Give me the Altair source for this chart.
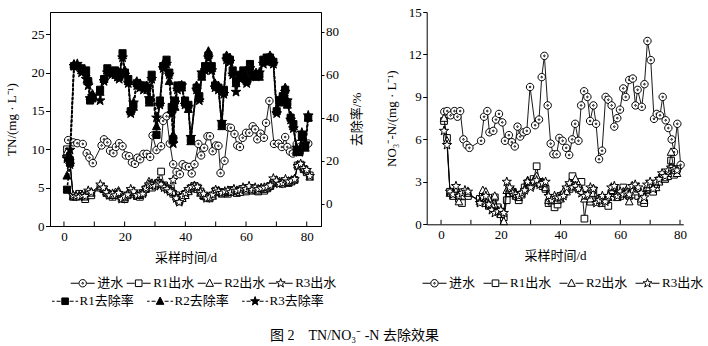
import altair as alt
import pandas as pd

FONT = "Liberation Serif, Noto Sans CJK SC"

# ---------------- data: left panel (TN) ----------------
tn_in_day = [1.4, 3.1, 4.4, 6.2, 7.5, 8.4, 9.5, 12.4, 13.2, 14.3, 15.2, 16.3, 17.1, 18.2, 19.3, 20.4, 21.5,
             22.4, 23.4, 24.2, 25.1, 26.2, 27.3, 28.4, 29.2, 30.5, 32.0, 32.7, 33.8, 34.9, 36.0, 37.1, 38.2,
             39.1, 40.1, 41.2, 42.1, 43.0, 44.3, 45.2, 46.2, 47.3, 48.1, 49.0, 50.1, 50.9, 51.6, 52.9, 54.2,
             55.0, 56.2, 57.1, 58.0, 58.9, 60.0, 61.1, 62.2, 63.0, 63.7, 64.8, 65.9, 66.6, 67.7, 69.2, 70.7,
             71.8, 72.9, 73.6, 74.5, 75.4, 76.7, 77.6, 79.1, 80.5]
tn_in_val = [11.2, 10.9, 10.8, 10.7, 9.5, 8.9, 8.2, 10.5, 11.3, 10.9, 9.8, 9.5, 10.3, 10.8, 10.4, 9.2, 9.1,
             8.3, 8.1, 8.9, 8.7, 9.4, 9.4, 9.0, 11.8, 9.9, 10.4, 13.7, 14.3, 10.75, 8.05, 7.05, 6.75,
             8.05, 7.8, 7.7, 6.85, 8.05, 10.7, 9.2, 10.2, 11.7, 11.7, 9.75, 10.5, 10.45, 6.9, 8.5, 12.85,
             12.8, 12.0, 10.5, 10.3, 11.5, 12.15, 12.15, 13.0, 12.6, 11.3, 12.05, 11.5, 13.45, 16.3, 10.7, 10.75,
             10.3, 11.6, 10.3, 9.7, 9.45, 10.7, 10.75, 10.75, 10.75]

tn_eff_day = [1, 2, 3, 4, 5, 6, 7, 8, 9,
              12, 13, 14, 15, 16, 17, 18, 19, 20, 21,
              22, 23, 24, 25, 26, 27, 28, 29, 30, 31,
              32, 33, 34, 35, 36, 37, 38, 39, 40, 41,
              42, 43, 44, 45, 46, 47, 48, 49, 50, 51,
              52, 53, 54, 55, 56, 57, 58, 59, 60, 61,
              62, 63, 64, 65, 66, 67, 68, 69, 70, 71,
              72, 73, 74, 75, 76, 77, 78, 79, 80, 81]
tn_r1 = [10.0, 8.6, 3.8, 3.9, 4.2, 3.9, 3.5, 4.3, 4.0,
         5.0, 4.8, 4.3, 4.0, 3.8, 4.2, 4.0, 3.6, 3.5, 4.0,
         4.5, 4.2, 3.9, 3.8, 4.3, 4.8, 5.2, 5.0, 5.3, 5.6,
         7.1, 5.3, 4.9, 4.6, 4.2, 4.0, 3.2, 3.8, 4.2, 4.6,
         4.9, 5.2, 5.0, 4.5, 3.9, 3.7, 3.6, 4.0, 4.6, 4.4,
         4.2, 4.4, 4.2, 4.7, 4.5, 4.3, 4.6, 4.8, 4.5, 4.9,
         4.6, 4.7, 4.5, 4.8, 4.6, 4.9, 5.2, 5.6, 5.7, 5.6,
         5.5, 5.8, 5.6, 5.8, 6.0, 7.9, 8.0, 7.4, 7.0, 6.6]
tn_r2 = [9.7, 8.3, 3.9, 3.8, 4.0, 4.1, 3.8, 4.5, 4.3,
         5.2, 4.9, 4.5, 4.2, 4.0, 4.4, 4.6, 3.9, 3.7, 4.2,
         4.7, 4.4, 4.1, 4.0, 4.4, 5.0, 5.8, 5.6, 5.5, 5.9,
         5.6, 5.2, 5.1, 4.8, 4.4, 3.8, 3.4, 3.6, 4.0, 4.5,
         5.0, 5.3, 4.8, 4.3, 4.0, 3.9, 3.8, 3.9, 4.5, 4.6,
         4.4, 4.3, 4.4, 4.5, 4.7, 4.5, 4.4, 4.9, 4.7, 5.0,
         4.8, 4.9, 4.6, 5.0, 4.8, 5.0, 5.4, 5.8, 6.0, 5.8,
         5.7, 5.9, 5.7, 6.0, 6.2, 8.0, 7.9, 7.6, 7.2, 6.4]
tn_r3 = [9.0, 8.0, 4.0, 3.9, 3.8, 4.0, 3.9, 4.6, 4.4,
         5.4, 5.0, 4.4, 4.0, 4.2, 4.0, 4.3, 3.5, 3.8, 4.1,
         4.8, 4.5, 4.0, 4.1, 4.2, 4.9, 5.4, 5.3, 5.2, 5.5,
         5.4, 5.0, 4.8, 4.5, 6.0, 3.6, 3.1, 3.9, 4.3, 4.8,
         5.1, 5.2, 5.1, 4.4, 4.2, 3.6, 3.7, 4.1, 4.7, 4.5,
         4.3, 4.5, 4.6, 4.4, 4.8, 4.6, 4.7, 5.0, 4.8, 5.2,
         4.7, 5.0, 4.8, 4.9, 5.0, 5.1, 5.3, 6.2, 5.9, 5.5,
         5.6, 6.1, 5.8, 5.9, 6.1, 7.8, 8.1, 7.5, 7.3, 6.5]

rm_day = [1.0, 2.0, 3.3, 4.4, 5.8, 7.3, 8.0, 8.6, 9.4, 11.9,
          13.2, 14.3, 15.7, 16.8, 17.6, 18.2, 19.3, 20.1, 21.2, 22.0,
          22.9, 24.0, 25.1, 26.2, 27.3, 28.1, 28.9, 30.5, 31.6, 32.7,
          33.8, 34.7, 35.5, 36.0, 36.6, 37.4, 38.8, 39.9, 41.0, 41.8,
          43.7, 44.6, 45.4, 46.5, 47.6, 48.7, 49.8, 50.9, 52.0, 52.7,
          53.6, 54.7, 55.6, 56.7, 58.0, 59.1, 60.2, 61.3, 62.2, 63.3,
          64.4, 65.7, 66.8, 67.9, 69.0, 70.1, 71.2, 72.1, 72.9, 73.6,
          74.7, 75.6, 76.7, 77.6, 78.4, 79.5, 80.5]
rm_r1 = [6.5, 19, 64, 64, 63, 62, 57, 48, 49, 53,
         58, 63, 61, 62, 61, 60, 70, 61, 58, 43,
         46, 56, 55, 55, 54, 48, 60, 32, 48, 64,
         67, 61, 45, 30, 48, 55, 55, 48, 46, 30,
         54, 50, 60, 64, 69, 64, 55, 54, 37, 53,
         68, 67, 62, 57, 60, 62, 57, 65, 60, 60,
         60, 67, 68, 68, 66, 43, 48, 50, 53, 47,
         40, 37, 25, 24, 32, 27, 40]
rm_r2 = [13, 22, 65, 64, 62, 61, 58, 50, 51, 52,
         58, 62, 61, 61, 60, 59, 69, 62, 57, 44,
         45, 57, 56, 54, 55, 47, 59, 36, 47, 65,
         66, 57, 44, 32, 45, 54, 54, 47, 44, 29,
         55, 49, 59, 63, 71, 63, 56, 55, 36, 52,
         69, 68, 61, 56, 59, 61, 58, 64, 59, 61,
         59, 66, 67, 69, 67, 44, 47, 49, 54, 46,
         41, 36, 24, 25, 31, 26, 40]
rm_r3 = [21, 25, 64, 65, 61, 58, 55, 49, 50, 48,
         57, 61, 60, 60, 59, 58, 68, 60, 56, 42,
         47, 55, 54, 53, 53, 49, 58, 40, 46, 63,
         65, 60, 42, 28, 47, 53, 55, 46, 45, 31,
         53, 48, 61, 62, 68, 62, 54, 53, 38, 51,
         67, 66, 60, 52, 58, 60, 56, 63, 60, 59,
         61, 65, 66, 67, 65, 42, 49, 48, 52, 48,
         39, 35, 26, 24, 33, 28, 41]

# ---------------- data: right panel (NO3-N) ----------------
no3_in_day = [1.1, 2.1, 3.2, 4.5, 5.5, 6.4, 7.5, 8.6, 9.5, 13.4, 14.4, 15.5, 16.2, 17.5, 18.4, 19.4, 20.5,
              21.4, 22.7, 23.7, 24.7, 25.6, 26.5, 27.6, 28.7, 29.8, 31.5, 32.8, 33.7, 34.6, 35.7, 36.7,
              37.6, 38.7, 39.6, 40.7, 41.9, 42.9, 43.9, 44.9, 46.0, 46.9, 47.9, 49.0, 49.9, 51.0, 51.9,
              52.9, 53.9, 55.1, 56.0, 57.1, 58.0, 59.0, 59.9, 61.0, 61.8, 63.0, 64.2, 65.1, 65.8, 67.2,
              68.1, 69.1, 70.2, 71.3, 72.2, 73.3, 74.2, 75.2, 76.1, 77.2, 78.0, 79.1, 80.2]
no3_in_val = [7.95, 8.0, 7.7, 8.0, 7.6, 8.0, 6.0, 5.6, 5.4, 5.9, 7.6, 8.0, 6.5, 6.6, 7.4, 7.8, 7.2,
              5.9, 6.3, 5.8, 5.5, 6.9, 6.2, 6.5, 6.6, 9.7, 7.0, 7.4, 10.4, 11.9, 8.4, 5.7,
              4.95, 4.95, 6.1, 5.9, 5.4, 4.9, 6.0, 7.1, 5.9, 8.4, 9.4, 9.0, 7.3, 8.4, 7.1,
              4.6, 5.2, 9.0, 8.8, 8.4, 6.9, 7.5, 8.1, 9.6, 9.0, 10.2, 10.3, 8.4, 9.5, 8.3,
              9.9, 12.95, 11.6, 7.45, 7.8, 7.7, 9.0, 7.35, 6.8, 6.0, 5.1, 7.1, 4.2]

no3_eff_day = [1, 2, 3, 4, 5, 6, 7, 8, 9,
               13, 14, 15, 16, 17, 18, 19, 20, 21, 22,
               23, 24, 25, 26, 27, 28, 29, 30, 31, 32,
               33, 34, 35, 36, 37, 38, 39, 40, 41, 42,
               43, 44, 45, 46, 47, 48, 49, 50, 51, 52,
               53, 54, 55, 56, 57, 58, 59, 60, 61, 62,
               63, 64, 65, 66, 67, 68, 69, 70, 71, 72,
               73, 74, 75, 76, 77, 78, 79]
no3_r1 = [7.3, 6.1, 2.3, 2.0, 2.3, 1.8, 1.5, 2.1, 2.0,
          1.8, 2.0, 1.5, 1.3, 1.6, 1.9, 1.2, 0.9, 0.5, 1.7,
          2.2, 2.3, 2.0, 1.7, 2.1, 2.6, 2.9, 2.7, 3.2, 4.1,
          3.0, 2.7, 2.5, 1.5, 1.6, 1.2, 1.4, 2.0, 2.1, 2.4,
          2.5, 3.4, 2.9, 2.6, 3.0, 0.4, 1.9, 1.6, 2.4, 1.8,
          1.6, 1.5, 1.8, 1.3, 2.2, 2.5, 2.1, 2.0, 2.6, 2.3,
          2.0, 2.2, 2.1, 2.0, 1.6, 1.5, 2.4, 2.5, 2.3, 2.8,
          3.1, 3.3, 3.2, 3.4, 4.5, 3.5, 3.9]
no3_r2 = [7.5, 5.9, 2.2, 2.2, 2.5, 1.6, 2.0, 2.3, 2.2,
          1.6, 2.4, 2.3, 1.8, 1.4, 2.0, 1.0, 0.7, 0.2, 2.4,
          2.5, 2.4, 2.2, 1.9, 2.3, 2.5, 3.1, 2.8, 3.1, 3.4,
          2.9, 3.0, 2.6, 1.7, 1.8, 1.9, 1.7, 1.8, 2.3, 2.3,
          2.7, 2.8, 3.2, 2.8, 2.4, 1.8, 2.0, 1.8, 2.2, 1.6,
          1.8, 1.9, 1.7, 1.9, 2.4, 2.6, 1.9, 2.2, 2.3, 2.4,
          1.6, 2.4, 2.3, 2.5, 1.8, 1.7, 2.6, 2.8, 2.6, 2.6,
          3.0, 3.4, 3.3, 3.6, 5.1, 3.8, 3.6]
no3_r3 = [6.6, 5.6, 2.3, 2.1, 2.7, 2.0, 2.2, 2.4, 2.3,
          1.5, 1.9, 2.0, 1.4, 1.0, 0.8, 0.9, 1.0, 0.8, 3.0,
          2.6, 2.2, 2.1, 2.0, 2.2, 2.4, 3.0, 2.6, 3.0, 3.1,
          2.8, 2.9, 3.0, 2.0, 1.7, 2.0, 1.9, 1.9, 2.0, 2.6,
          2.9, 2.6, 2.7, 2.5, 2.2, 2.0, 2.1, 2.6, 2.5, 1.5,
          1.7, 2.0, 1.6, 2.0, 2.6, 2.7, 2.0, 2.3, 2.1, 2.2,
          2.1, 2.7, 2.8, 2.6, 2.2, 1.9, 2.8, 3.0, 2.5, 3.0,
          3.2, 3.6, 3.4, 3.8, 4.0, 3.9, 3.8]

conc_names = ["进水", "R1出水", "R2出水", "R3出水"]
rem_names = ["R1去除率", "R2去除率", "R3去除率"]
x_label_ticks = [0, 20, 40, 60, 80]
x_minor_ticks = [0, 10, 20, 30, 40, 50, 60, 70, 80]
tn_ticks = [0, 5, 10, 15, 20, 25]
rm_ticks = [0, 20, 40, 60, 80]
no3_ticks = [0, 3, 6, 9, 12, 15]

# ---------------- marker shapes ----------------
CIRC = "M1,0A1,1 0 1,1 -1,0A1,1 0 1,1 1,0ZM0.22,0A0.22,0.22 0 1,1 -0.22,0A0.22,0.22 0 1,1 0.22,0Z"
SQ = "M-0.85,-0.85L0.85,-0.85L0.85,0.85L-0.85,0.85Z"
TRI = "M0,-1L0.9,0.75L-0.9,0.75Z"
STAR = "M0,-1L0.235,-0.324L0.951,-0.309L0.38,0.124L0.588,0.809L0,0.4L-0.588,0.809L-0.38,0.124L-0.951,-0.309L-0.235,-0.324Z"

SOLID = "M-12,0L-4,0M4,0L12,0"
DASH = "M-13,0L-10.5,0M-8.5,0L-4.5,0M4.5,0L8.5,0M10.5,0L13,0"
M_CIRC = "M3.7,0A3.7,3.7 0 1,1 -3.7,0A3.7,3.7 0 1,1 3.7,0ZM0.8,0A0.8,0.8 0 1,1 -0.8,0A0.8,0.8 0 1,1 0.8,0Z"
M_SQ = "M-3.3,-3.3L3.3,-3.3L3.3,3.3L-3.3,3.3Z"
M_TRI = "M0,-4.2L3.8,3.1L-3.8,3.1Z"
M_STAR = "M0,-4.7L1.1,-1.52L4.47,-1.45L1.79,0.58L2.76,3.8L0,1.88L-2.76,3.8L-1.79,0.58L-4.47,-1.45L-1.1,-1.52Z"

LW, LH = 271, 214
RW, RH = 256.6, 212.3


def series(days, vals, x, y, shape, size, fill, dash=None, lw=1.0):
    data = pd.DataFrame({"d": days, "v": vals})
    lk = dict(color="black", strokeWidth=lw)
    if dash:
        lk["strokeDash"] = dash
    line = alt.Chart(data).mark_line(**lk).encode(x=x, y=y)
    pts = alt.Chart(data).mark_point(shape=shape, size=size, filled=True, fill=fill,
                                     stroke="black", strokeWidth=1, opacity=1).encode(x=x, y=y)
    return [line, pts]


def legend_layer(names, paths, fill, lx, ly, pad):
    def lg():
        return alt.Legend(orient="none", legendX=lx, legendY=ly, direction="horizontal",
                          title=None, symbolSize=4, symbolOffset=7, labelOffset=8,
                          symbolStrokeWidth=1, symbolOpacity=1,
                          labelFont=FONT, labelFontSize=13, labelColor="black",
                          columnPadding=pad, padding=0)
    return alt.Chart(pd.DataFrame({"s": names})).mark_point(opacity=0).encode(
        shape=alt.Shape("s:N", scale=alt.Scale(domain=names, range=paths), legend=lg()),
        stroke=alt.Stroke("s:N", scale=alt.Scale(domain=names, range=["black"] * len(names)), legend=lg()),
        fill=alt.Fill("s:N", scale=alt.Scale(domain=names, range=[fill] * len(names)), legend=lg()),
    )


def minor_ticks(x, h):
    return alt.Chart(pd.DataFrame({"d": x_minor_ticks})).mark_rule(color="black", strokeWidth=1).encode(
        x=x, y=alt.value(h), y2=alt.value(h - 4.5))


# ---------------- left panel ----------------
xL = alt.X("d:Q", scale=alt.Scale(domain=[-4.6, 84.7], nice=False, zero=False),
           axis=alt.Axis(values=x_label_ticks, title="采样时间/d", tickSize=0, labelPadding=4,
                         titlePadding=8, format="d"))
yL = alt.Y("v:Q", scale=alt.Scale(domain=[0, 27.9], nice=False),
           axis=alt.Axis(values=tn_ticks, title="TN/(mg · L⁻¹)", orient="left", tickSize=4.5,
                         labelPadding=1.5, titlePadding=13, format="d"))
yR = alt.Y("v:Q", scale=alt.Scale(domain=[-10.4, 89.2], nice=False, zero=False),
           axis=alt.Axis(values=rm_ticks, title="去除率/%", orient="right", tickSize=3,
                         labelPadding=1.5, titlePadding=25, titleAngle=270, format="d"))

conc_layers = []
conc_layers += series(tn_in_day, tn_in_val, xL, yL, CIRC, 55, "white", lw=0.9)
conc_layers += series(tn_eff_day, tn_r1, xL, yL, SQ, 62, "white", lw=0.9)
conc_layers += series(tn_eff_day, tn_r2, xL, yL, TRI, 72, "white", lw=0.9)
conc_layers += series(tn_eff_day, tn_r3, xL, yL, STAR, 95, "white", lw=0.9)
conc_layers.append(minor_ticks(xL, LH))
conc_layers.append(legend_layer(conc_names, [SOLID + M_CIRC, SOLID + M_SQ, SOLID + M_TRI, SOLID + M_STAR],
                                "white", 19.2, 264.5, 0))

rem_layers = []
rem_layers += series(rm_day, rm_r1, xL, yR, SQ, 70, "black", dash=[3, 1.5], lw=1.6)
rem_layers += series(rm_day, rm_r2, xL, yR, TRI, 80, "black", dash=[3, 1.5], lw=1.6)
rem_layers += series(rm_day, rm_r3, xL, yR, STAR, 105, "black", dash=[3, 1.5], lw=1.6)
rem_layers.append(legend_layer(rem_names, [DASH + M_SQ, DASH + M_TRI, DASH + M_STAR], "black", 1.6, 282.5, 10))

left = alt.layer(alt.layer(*conc_layers), alt.layer(*rem_layers)).resolve_scale(
    y="independent", shape="independent", fill="independent", stroke="independent"
).resolve_legend(shape="independent", fill="independent", stroke="independent").properties(width=LW, height=LH)

# ---------------- right panel ----------------
xR = alt.X("d:Q", scale=alt.Scale(domain=[-4.8, 81.1], nice=False, zero=False),
           axis=alt.Axis(values=x_label_ticks, title="采样时间/d", tickSize=0, labelPadding=4,
                         titlePadding=8, format="d"))
yN = alt.Y("v:Q", scale=alt.Scale(domain=[0, 15], nice=False),
           axis=alt.Axis(values=no3_ticks, title="NO₃⁻-N/(mg · L⁻¹)", orient="left", tickSize=4,
                         labelPadding=1.5, titlePadding=10, format="d"))

no3_layers = []
no3_layers += series(no3_in_day, no3_in_val, xR, yN, CIRC, 55, "white", lw=0.9)
no3_layers += series(no3_eff_day, no3_r1, xR, yN, SQ, 62, "white", lw=0.9)
no3_layers += series(no3_eff_day, no3_r2, xR, yN, TRI, 72, "white", lw=0.9)
no3_layers += series(no3_eff_day, no3_r3, xR, yN, STAR, 95, "white", lw=0.9)
no3_layers.append(minor_ticks(xR, RH))
no3_layers.append(legend_layer(conc_names, [SOLID + M_CIRC, SOLID + M_SQ, SOLID + M_TRI, SOLID + M_STAR],
                               "white", -5.7, 264.5, 5))

right = alt.layer(*no3_layers).properties(width=RW, height=RH,
                                         view=alt.ViewBackground(stroke="transparent"))

chart = alt.hconcat(left, right, spacing=105.7, bounds="flush").resolve_scale(
    shape="independent", fill="independent", stroke="independent"
).resolve_legend(shape="independent", fill="independent", stroke="independent").properties(
    padding={"left": 4, "top": 5, "right": 0, "bottom": 0},
    title=alt.TitleParams("图 2\u3000TN/NO₃⁻ -N 去除效果", orient="bottom", anchor="middle", font=FONT,
                          fontSize=14, fontWeight="normal", color="black", offset=20)
).configure_axis(
    labelFont=FONT, titleFont=FONT, labelFontSize=13, titleFontSize=13, titleFontWeight="normal",
    labelColor="black", titleColor="black", domainColor="black", tickColor="black", grid=False,
    labelFlush=False, domainWidth=1, tickWidth=1
).configure_view(stroke="black", strokeWidth=1)

chart.save("out.html", embed_options={"renderer": "svg", "actions": False})
